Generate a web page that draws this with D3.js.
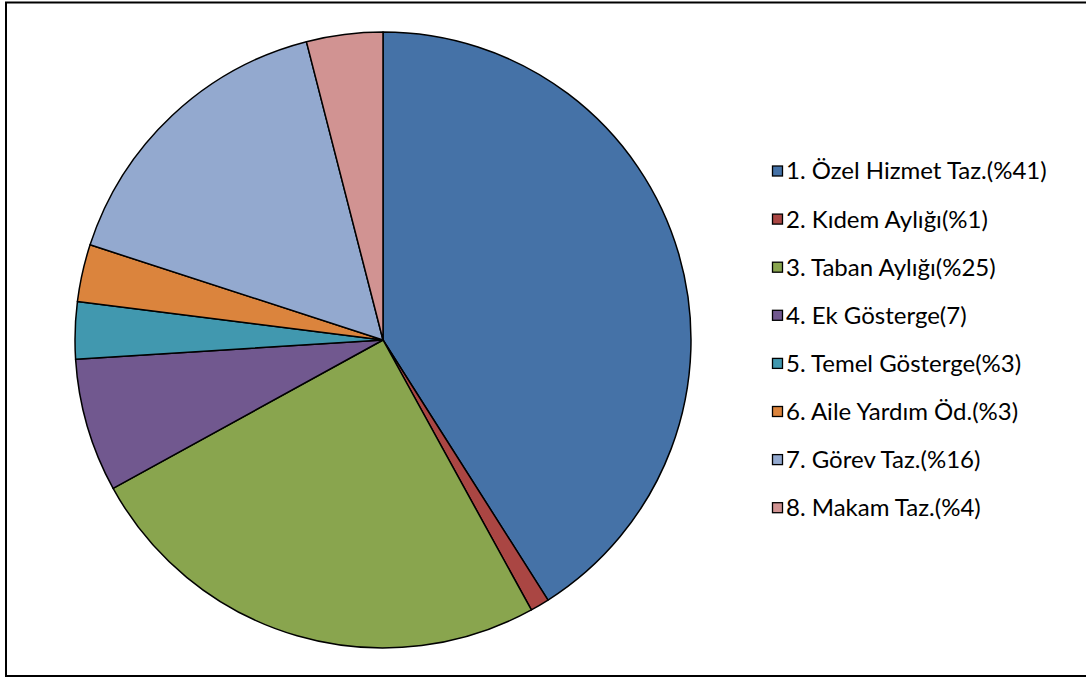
<!DOCTYPE html>
<html>
<head>
<meta charset="utf-8">
<script src="https://cdn.jsdelivr.net/npm/d3@7"></script>
<style>
  html, body { margin: 0; padding: 0; background: #fff; }
  svg { display: block; }
</style>
</head>
<body>
<svg id="chart" width="1086" height="677"></svg>
<script>
// Salary components and their shares (%)
const categories = [
  "1. Özel Hizmet Taz.(%41)",
  "2. Kıdem Aylığı(%1)",
  "3. Taban Aylığı(%25)",
  "4. Ek Gösterge(7)",
  "5. Temel Gösterge(%3)",
  "6. Aile Yardım Öd.(%3)",
  "7. Görev Taz.(%16)",
  "8. Makam Taz.(%4)"
];
const values = [41, 1, 25, 7, 3, 3, 16, 4];
const colors = ["#4572A7", "#AA4643", "#89A54E", "#71588F", "#4198AF", "#DB843D", "#93A9CF", "#D19392"];

const svg = d3.select("#chart");

// outer frame
svg.append("rect")
  .attr("x", 6).attr("y", 2.5)
  .attr("width", 1086).attr("height", 673.5)
  .attr("fill", "#fff")
  .attr("stroke", "#000").attr("stroke-width", 2);

const cx = 383, cy = 340, r = 308;

const color = d3.scaleOrdinal().domain(categories).range(colors);

const pie = d3.pie().sort(null).value(d => d.value);
const arc = d3.arc().innerRadius(0).outerRadius(r);

const data = categories.map((c, i) => ({ name: c, value: values[i] }));

svg.append("g")
  .attr("transform", `translate(${cx},${cy})`)
  .selectAll("path")
  .data(pie(data))
  .join("path")
  .attr("d", arc)
  .attr("fill", d => color(d.data.name))
  .attr("stroke", "#000")
  .attr("stroke-width", 1.5)
  .attr("stroke-linejoin", "round");

// legend
const legend = svg.append("g").attr("transform", "translate(772,171)");
const row = legend.selectAll("g")
  .data(categories)
  .join("g")
  .attr("transform", (d, i) => `translate(0,${i * 48.1})`);

row.append("rect")
  .attr("x", 0.5).attr("y", -5)
  .attr("width", 10).attr("height", 10)
  .attr("fill", d => color(d))
  .attr("stroke", "#000").attr("stroke-width", 1.3);

row.append("text")
  .attr("x", 14).attr("y", 0)
  .attr("dy", "0.35em")
  .attr("font-family", "Lato, 'Open Sans', sans-serif")
  .attr("font-size", 24)
  .attr("fill", "#000")
  .text(d => d);
</script>
</body>
</html>
